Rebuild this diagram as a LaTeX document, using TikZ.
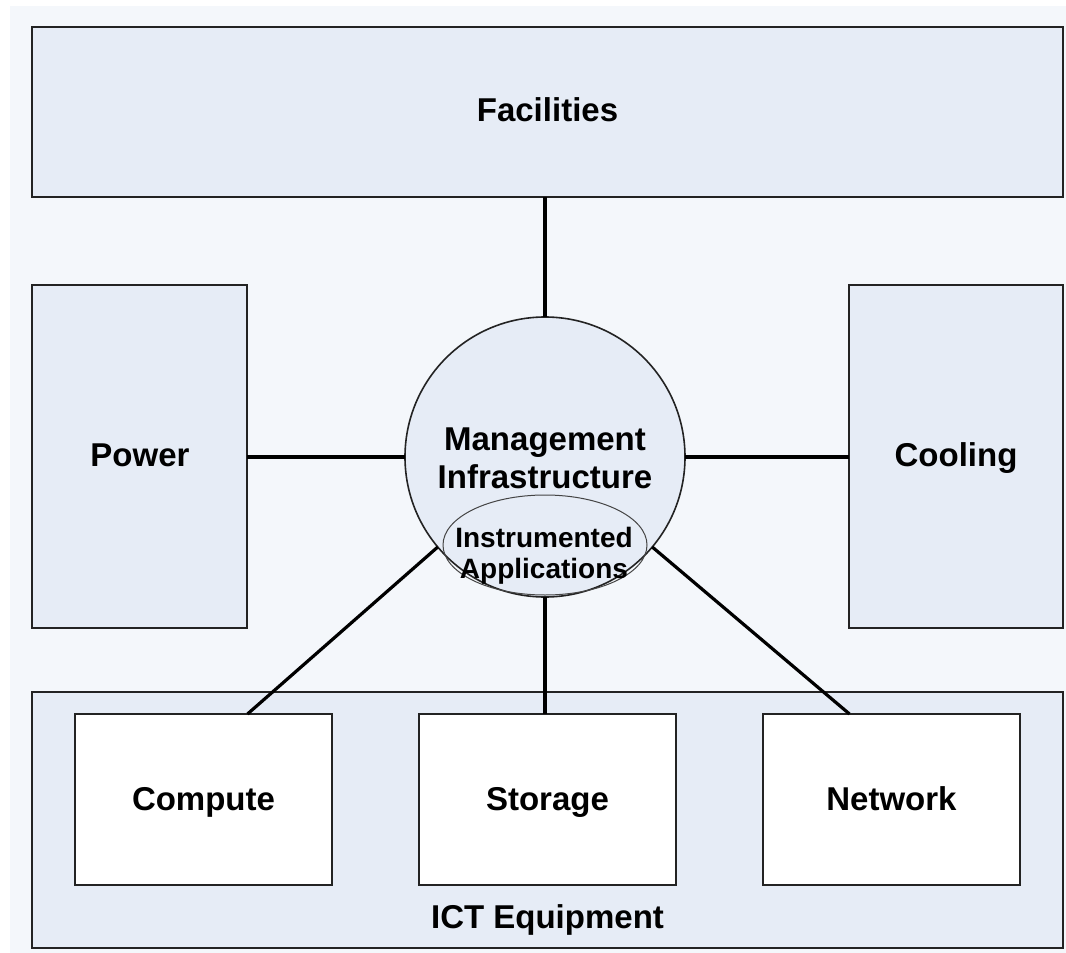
\documentclass[tikz,border=0pt]{standalone}
\usepackage{fontspec}
\setmainfont{Liberation Sans}
\usetikzlibrary{shapes.geometric}
\definecolor{panel}{RGB}{230,236,246}
\definecolor{edge}{RGB}{35,35,35}
\definecolor{haze}{RGB}{244,247,251}
\begin{document}
\begin{tikzpicture}[x=0.5pt,y=-0.5pt,
  box/.style={draw=edge,line width=0.9pt,fill=panel,inner sep=0pt,outer sep=0pt},
  whitebox/.style={box,fill=white},
  lbl/.style={font=\bfseries\fontsize{16.5}{19}\selectfont,align=center,anchor=base},
  smalllbl/.style={font=\bfseries\fontsize{14}{15.5}\selectfont,align=center,anchor=base},
  link/.style={draw=black,line width=1.6pt}]
  \useasboundingbox (0,0) rectangle (1066,953);
  \fill[haze] (10,6) rectangle (1066,953);

  % outer panels
  \node[box,minimum width=515.5pt,minimum height=85pt] (fac) at (547.5,112) {};
  \node[lbl] (faclbl) at (547.5,121) {Facilities};
  \node[box,minimum width=107.5pt,minimum height=171.5pt] (pow) at (139.5,456.5) {};
  \node[lbl] (powlbl) at (140,466) {Power};
  \node[box,minimum width=107pt,minimum height=171.5pt] (cool) at (956,456.5) {};
  \node[lbl] (coollbl) at (956,466) {Cooling};
  \node[box,minimum width=515.5pt,minimum height=128pt] (ict) at (547.5,820) {};
  \node[lbl] (ictlbl) at (547.5,928) {ICT Equipment};

  % equipment boxes
  \node[whitebox,minimum width=128.5pt,minimum height=85.5pt] (comp) at (203.5,799.5) {};
  \node[lbl] (complbl) at (203.5,810) {Compute};
  \node[whitebox,minimum width=128.5pt,minimum height=85.5pt] (stor) at (547.5,799.5) {};
  \node[lbl] (storlbl) at (547.5,810) {Storage};
  \node[whitebox,minimum width=128.5pt,minimum height=85.5pt] (net) at (891.5,799.5) {};
  \node[lbl] (netlbl) at (891.5,810) {Network};

  % management hub
  \node[circle,draw=edge,line width=0.8pt,fill=panel,minimum size=140pt,inner sep=0pt,outer sep=0pt] (mgmt) at (545,457) {};
  \node[lbl] (mgmtlbl) at (545,488) {Management\\Infrastructure};
  \node[ellipse,draw=edge!85,line width=0.5pt,minimum width=102pt,minimum height=50pt,inner sep=0pt,outer sep=0pt] (apps) at (545,545) {};
  \node[smalllbl] (appslbl) at (544,578) {Instrumented\\Applications};

  % connectors
  \draw[link] (fac.south -| mgmt.north) -- (mgmt.north);
  \draw[link] (pow.east |- mgmt.west) -- (mgmt.west);
  \draw[link] (cool.west |- mgmt.east) -- (mgmt.east);
  \draw[link] (mgmt.south) -- (mgmt.south |- stor.north);
  \draw[link] (mgmt.220) -- ([xshift=22pt]comp.north);
  \draw[link] (mgmt.320) -- ([xshift=-21pt]net.north);
\end{tikzpicture}
\end{document}
